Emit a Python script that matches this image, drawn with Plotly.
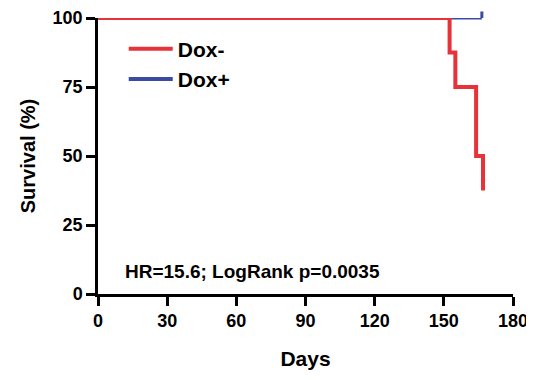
import plotly.graph_objects as go

# Kaplan-Meier step data (days, survival %)
dox_minus_days = [0, 152.5, 152.5, 155, 155, 164, 164, 167, 167]
dox_minus_surv = [100, 100, 87.5, 87.5, 75, 75, 50, 50, 37.5]
dox_plus_days = [0, 166.5]
dox_plus_surv = [100, 100]
dox_plus_censor_day = 166.5
dox_plus_censor_surv = 100
x_ticks = [0, 30, 60, 90, 120, 150, 180]
y_ticks = [0, 25, 50, 75, 100]
annotation_text = "HR=15.6; LogRank p=0.0035"

FONT = "Liberation Sans, Arial, sans-serif"
RED = "#e8323a"
BLUE = "#3b4ba0"

fig = go.Figure()
# Dox+ curve
fig.add_trace(go.Scatter(
    x=dox_plus_days, y=dox_plus_surv,
    mode="lines", line=dict(color=BLUE, width=3),
    showlegend=False))
fig.add_trace(go.Scatter(
    x=dox_minus_days, y=dox_minus_surv, mode="lines",
    line=dict(color=RED, width=4),
    name="Dox-"))
fig.add_trace(go.Scatter(
    x=[None], y=[None], mode="lines",
    line=dict(color=BLUE, width=4), name="Dox+"))

fig.update_layout(
    width=526, height=364,
    margin=dict(l=90, r=21, t=10, b=78),
    plot_bgcolor="white", paper_bgcolor="white",
    font=dict(family=FONT, color="black"),
    showlegend=True,
    legend=dict(x=0.062, y=0.962, xanchor="left", yanchor="top",
                font=dict(size=21, family=FONT, weight="bold"),
                bgcolor="rgba(0,0,0,0)", itemwidth=44, tracegroupgap=0),
    xaxis=dict(range=[0, 180], tickvals=x_ticks, ticks="outside", ticklen=9,
               tickwidth=2.5, tickcolor="black", showline=True, linecolor="black",
               linewidth=2.5, showgrid=False, zeroline=False, automargin=False,
               tickfont=dict(size=18, family=FONT, weight="bold"),
               title=dict(text="<b>Days</b>", font=dict(size=21, family=FONT), standoff=21)),
    yaxis=dict(range=[0, 100], tickvals=y_ticks, ticks="outside", ticklen=9,
               tickwidth=2.5, tickcolor="black", showline=True, linecolor="black",
               linewidth=2.5, showgrid=False, zeroline=False, automargin=False,
               tickfont=dict(size=18, family=FONT, weight="bold"),
               title=dict(text="<b>Survival (%)</b>", font=dict(size=20, family=FONT), standoff=12)),
    annotations=[
        dict(text="<b>" + annotation_text + "</b>", x=0.06, y=0.08,
             xref="paper", yref="paper", xanchor="left", yanchor="middle",
             showarrow=False, font=dict(size=19, family=FONT)),
        # censor tick for Dox+
        dict(text="", x=dox_plus_censor_day, y=dox_plus_censor_surv,
             xref="x", yref="y", showarrow=True, arrowhead=0,
             arrowwidth=3, arrowcolor=BLUE, ax=0, ay=-8, standoff=0),
    ],
)

fig.write_html("out.html")
